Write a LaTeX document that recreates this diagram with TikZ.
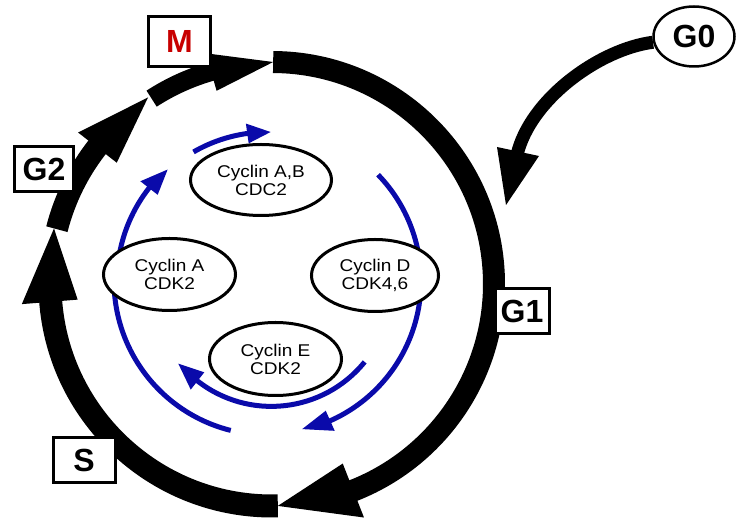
\documentclass[tikz,border=0pt]{standalone}
\usepackage{fontspec}
\setmainfont{Liberation Sans}
\newfontfamily\cycfont[FakeStretch=1.12]{Liberation Sans}
\usetikzlibrary{shapes.geometric}
\definecolor{ringblue}{RGB}{10,10,170}
\definecolor{mred}{RGB}{200,0,0}
\begin{document}
\begin{tikzpicture}[x=1pt,y=1pt,
  phase/.style={draw=black, line width=3pt, fill=white, inner sep=0pt, font=\fontsize{32}{32}\selectfont\bfseries},
  cyc/.style={ellipse, draw=black, line width=3pt, fill=white, inner sep=0pt, align=center, font=\cycfont\fontsize{17}{18}\selectfont},
  bluearc/.style={draw=ringblue, line width=5pt},
  bluehead/.style={fill=ringblue},
]
\useasboundingbox (0,0) rectangle (736,519);
\fill[white] (0,0) rectangle (736,519);

% ---- black cell-cycle ring ----
\coordinate (O) at (272,235);
\begin{scope}[shift={(O)}]
  % G1 segment
  \draw[line width=22pt] (89.7:222) arc[start angle=89.7, end angle=-69, radius=222];
  \fill (-68.5:193) -- (-68.5:251) -- (-88.5:222) -- cycle;
  % S segment
  \draw[line width=23pt] (-88.5:222) arc[start angle=-88.5, end angle=-176, radius=222];
  \fill (-175.4:195) -- (-175.4:251) -- (-194.3:225) -- cycle;
  % G2 segment
  \draw[line width=22pt] (165.7:222) arc[start angle=165.7, end angle=141.5, radius=222];
  \fill (142:197) -- (142:246) -- (123.6:224) -- cycle;
  % M segment
  \draw[line width=19pt] (123:221) arc[start angle=123, end angle=105.5, radius=221];
  \fill (106:201) -- (106:240) -- (89.7:222) -- cycle;
\end{scope}

% ---- blue arrows ----
\coordinate (B) at (268,238);
\begin{scope}[shift={(B)}]
  \draw[bluearc] (120:149) arc[start angle=120, end angle=97.5, radius=149];
  \fill[bluehead] (98:139) -- (98:159) -- (89:149) -- cycle;
  \draw[bluearc] (172:151) arc[start angle=172, end angle=141.5, radius=151];
  \fill[bluehead] (142:140) -- (142:162) -- (132:150) -- cycle;
  \draw[bluearc] (44:153) arc[start angle=44, end angle=-66.5, radius=153];
  \fill[bluehead] (-66:142) -- (-66:164) -- (-77:152) -- cycle;
  \draw[bluearc] (182:154) arc[start angle=182, end angle=256, radius=154];
\end{scope}
\coordinate (Ei) at (271.4,232.6);
\begin{scope}[shift={(Ei)}]
  \draw[bluearc] (-39:120) arc[start angle=-39, end angle=-128.5, radius=120];
  \fill[bluehead] (-128:109) -- (-128:131) -- (-140.3:121) -- cycle;
\end{scope}

% ---- cyclin complexes ----
\node[cyc, minimum width=141pt, minimum height=71pt] (ab) at (261,339) {Cyclin A,B\\CDC2};
\node[cyc, minimum width=132pt, minimum height=72pt] (a) at (169.5,244.5) {Cyclin A\\CDK2};
\node[cyc, minimum width=127pt, minimum height=72pt] (d) at (375,243.5) {Cyclin D\\CDK4,6};
\node[cyc, minimum width=132pt, minimum height=73pt] (e) at (275.5,160) {Cyclin E\\CDK2};

% ---- G0 ----
\node[ellipse, draw=black, line width=2.5pt, fill=white, inner sep=0pt, minimum width=81pt, minimum height=60pt, font=\fontsize{32}{32}\selectfont\bfseries] (g0) at (694,482.5) {G0};
\coordinate (g0end) at (517,364);
\draw[line width=13pt] (g0.188) .. controls (600,470) and (530,420) .. (g0end);
\fill (497,372) -- (539,363) -- (506,314) -- cycle;

% ---- phase labels ----
\node[phase, minimum width=62pt, minimum height=50pt, text=mred] (m) at (179.5,477.5) {M};
\node[phase, minimum width=59pt, minimum height=45pt] (g2) at (44,350) {G2};
\node[phase, minimum width=54pt, minimum height=45pt] (g1) at (522,208) {G1};
\node[phase, minimum width=62pt, minimum height=45pt] (s) at (84,59) {S};
\end{tikzpicture}
\end{document}
